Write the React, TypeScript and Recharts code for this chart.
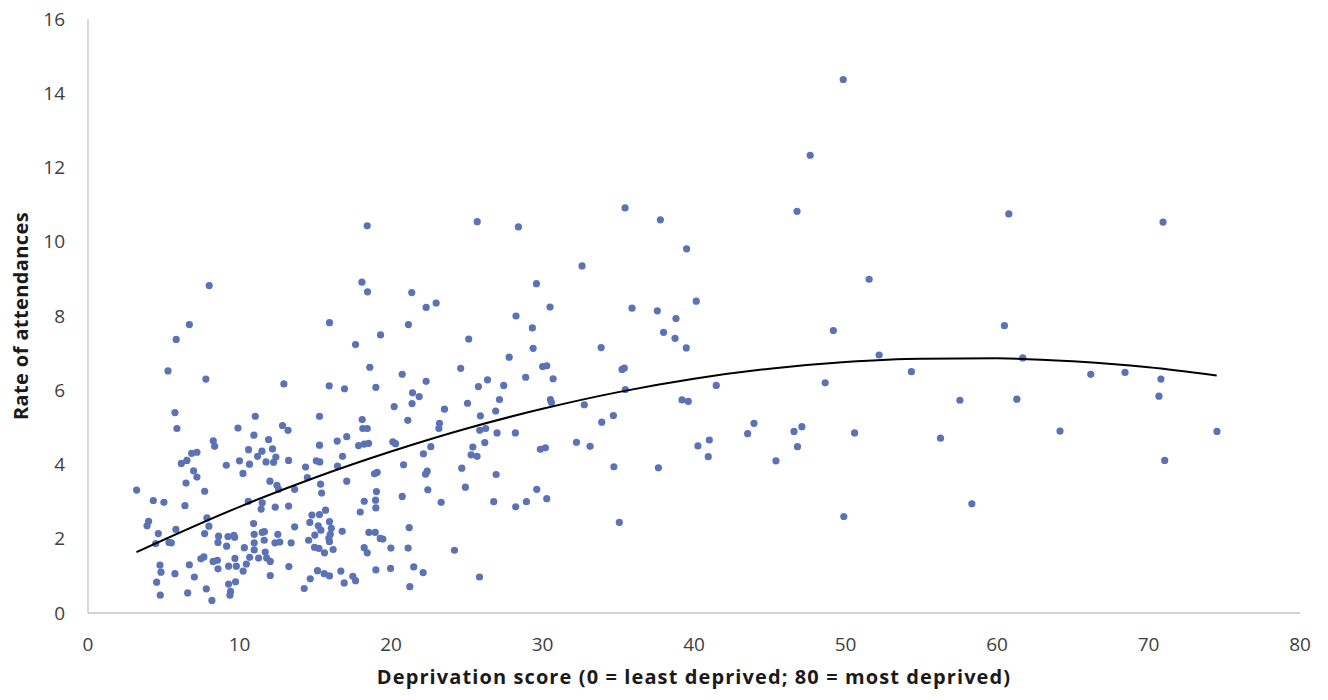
import { ScatterChart, Scatter, XAxis, YAxis } from "recharts";

// [deprivation score, rate of attendances], grouped by score band
const band0to10: [number, number][] = [
  [3.21, 3.31], [3.9, 2.35], [4.0, 2.47], [4.31, 3.03], [4.47, 1.87], [4.53, 0.83], [4.64, 2.14],
  [4.75, 1.29], [4.77, 0.48], [4.82, 1.1], [5.01, 2.98], [5.28, 6.52], [5.35, 1.9], [5.5, 1.89],
  [5.74, 5.4], [5.74, 1.06], [5.8, 2.25], [5.82, 7.37], [5.87, 4.97], [6.16, 4.03], [6.4, 2.89],
  [6.47, 3.5], [6.53, 4.11], [6.58, 0.54], [6.69, 7.77], [6.69, 1.3], [6.84, 4.3], [6.97, 3.83],
  [7.02, 0.97], [7.19, 4.33], [7.19, 3.66], [7.45, 1.46], [7.65, 1.51], [7.7, 3.28], [7.7, 2.14],
  [7.78, 6.3], [7.81, 0.65], [7.85, 2.56], [7.98, 2.34], [8.0, 8.82], [8.18, 0.34], [8.26, 1.39],
  [8.27, 4.64], [8.36, 4.49], [8.54, 1.42], [8.58, 1.9], [8.58, 1.19], [8.62, 2.07], [9.13, 3.98],
  [9.15, 1.8], [9.24, 2.06], [9.28, 1.26], [9.28, 0.78], [9.37, 0.48], [9.41, 0.58], [9.63, 2.09],
  [9.68, 2.04], [9.7, 1.47], [9.74, 0.84], [9.79, 1.26], [9.9, 4.98],
];

const band10to20: [number, number][] = [
  [10.0, 4.1], [10.23, 3.76], [10.24, 1.13], [10.32, 1.76], [10.45, 1.32], [10.58, 3.01], [10.6, 4.4],
  [10.66, 4.01], [10.67, 1.5], [10.93, 2.41], [10.95, 4.79], [10.97, 2.12], [10.97, 1.89], [10.97, 1.7],
  [11.04, 5.3], [11.19, 4.22], [11.26, 1.48], [11.43, 2.8], [11.48, 4.36], [11.5, 2.97], [11.5, 2.17],
  [11.63, 1.96], [11.64, 2.19], [11.7, 1.64], [11.75, 4.07], [11.79, 1.48], [11.92, 4.67], [12.01, 3.55],
  [12.03, 1.39], [12.03, 1.01], [12.18, 4.42], [12.25, 4.06], [12.34, 1.89], [12.36, 2.85], [12.4, 4.2],
  [12.47, 3.44], [12.53, 2.12], [12.58, 3.33], [12.66, 1.91], [12.84, 5.05], [12.93, 6.17], [13.2, 4.92],
  [13.24, 4.11], [13.24, 2.88], [13.26, 1.25], [13.41, 1.89], [13.64, 3.33], [13.64, 2.32], [14.27, 0.66],
  [14.36, 3.93], [14.48, 3.65], [14.56, 1.96], [14.64, 2.44], [14.67, 0.92], [14.78, 2.64], [14.95, 1.77],
  [14.97, 2.1], [15.07, 4.1], [15.15, 1.14], [15.2, 2.35], [15.24, 1.74], [15.28, 5.3], [15.28, 4.52],
  [15.28, 2.65], [15.3, 4.07], [15.35, 3.47], [15.37, 2.23], [15.42, 3.23], [15.59, 1.06], [15.61, 1.62],
  [15.68, 2.77], [15.9, 2.01], [15.92, 6.12], [15.94, 7.82], [15.94, 2.46], [15.94, 1.92], [15.94, 1.0],
  [15.99, 2.12], [16.06, 2.28], [16.18, 1.71], [16.45, 4.63], [16.47, 3.96], [16.69, 1.13], [16.78, 2.2],
  [16.8, 4.22], [16.91, 0.81], [16.93, 6.04], [17.08, 4.75], [17.08, 3.55], [17.48, 0.99], [17.66, 7.23],
  [17.66, 0.87], [17.86, 4.51], [17.97, 2.72], [18.08, 8.91], [18.1, 5.21], [18.14, 4.97], [18.23, 4.55],
  [18.23, 3.01], [18.23, 1.76], [18.43, 10.43], [18.43, 4.97], [18.43, 1.62], [18.45, 8.65], [18.52, 4.57],
  [18.54, 2.17], [18.6, 6.62], [18.91, 3.75], [18.96, 2.17], [18.98, 3.04], [19.0, 6.08], [19.0, 2.83],
  [19.0, 1.16], [19.04, 3.27], [19.09, 3.79], [19.29, 2.01], [19.31, 7.49], [19.46, 1.99], [19.97, 1.2],
  [19.99, 1.75],
];

const band20to30: [number, number][] = [
  [20.12, 4.61], [20.21, 5.56], [20.3, 4.56], [20.74, 6.43], [20.74, 3.14], [20.83, 3.99], [21.11, 5.19],
  [21.13, 1.75], [21.15, 7.77], [21.2, 2.3], [21.24, 0.71], [21.37, 8.63], [21.39, 5.64], [21.42, 5.93],
  [21.5, 1.24], [21.86, 5.83], [22.12, 1.09], [22.14, 4.29], [22.28, 3.74], [22.32, 8.23], [22.32, 6.24],
  [22.39, 3.82], [22.43, 3.32], [22.63, 4.48], [22.98, 8.35], [23.16, 4.97], [23.2, 5.11], [23.31, 2.98],
  [23.53, 5.49], [24.19, 1.69], [24.6, 6.59], [24.67, 3.9], [24.91, 3.39], [25.05, 5.65], [25.13, 7.38],
  [25.29, 4.26], [25.4, 4.47], [25.68, 4.22], [25.69, 10.54], [25.77, 6.1], [25.84, 0.97], [25.86, 4.92],
  [25.9, 5.31], [26.19, 4.59], [26.25, 4.97], [26.37, 6.28], [26.78, 3.0], [26.91, 5.44], [26.94, 3.73],
  [27.0, 4.85], [27.16, 5.75], [27.44, 6.13], [27.8, 6.89], [28.21, 4.85], [28.23, 2.86], [28.25, 8.0],
  [28.41, 10.4], [28.89, 6.35], [28.94, 3.0], [29.33, 7.68], [29.38, 7.13], [29.6, 8.87], [29.62, 3.33],
  [29.86, 4.41],
];

const band30plus: [number, number][] = [
  [30.01, 6.64], [30.19, 4.45], [30.28, 6.66], [30.28, 3.08], [30.5, 8.24], [30.52, 5.75], [30.59, 5.67],
  [30.7, 6.31], [32.24, 4.6], [32.61, 9.35], [32.76, 5.61], [33.14, 4.49], [33.87, 7.15], [33.91, 5.14],
  [34.68, 5.32], [34.71, 3.94], [35.07, 2.44], [35.25, 6.56], [35.4, 6.6], [35.45, 10.91], [35.47, 6.02],
  [35.91, 8.21], [37.58, 8.14], [37.65, 3.91], [37.78, 10.59], [37.99, 7.56], [38.75, 7.4], [38.81, 7.93],
  [39.21, 5.74], [39.49, 7.14], [39.51, 9.81], [39.62, 5.7], [40.15, 8.4], [40.26, 4.5], [40.94, 4.21],
  [41.01, 4.66], [41.47, 6.13], [43.54, 4.83], [43.96, 5.11], [45.41, 4.1], [46.6, 4.89], [46.8, 10.82],
  [46.83, 4.48], [47.12, 5.02], [47.67, 12.33], [48.66, 6.2], [49.2, 7.61], [49.85, 14.37], [49.89, 2.6],
  [50.6, 4.85], [51.56, 8.99], [52.22, 6.95], [54.35, 6.5], [56.27, 4.71], [57.55, 5.73], [58.34, 2.94],
  [60.49, 7.74], [60.78, 10.75], [61.31, 5.76], [61.7, 6.87], [64.16, 4.9], [66.19, 6.43], [68.45, 6.48],
  [70.69, 5.84], [70.82, 6.3], [70.96, 10.53], [71.07, 4.11], [74.52, 4.89],
];

// polynomial trend line at intervals
const trendX = [3.2, 10, 15, 20, 25, 30, 35, 40, 45, 50, 55, 60, 65, 70, 74.5];
const trendY = [1.64, 2.86, 3.65, 4.35, 4.97, 5.5, 5.95, 6.31, 6.58, 6.76, 6.85, 6.86, 6.78, 6.62, 6.4];

const xTicks = [0, 10, 20, 30, 40, 50, 60, 70, 80];
const yTicks = [0, 2, 4, 6, 8, 10, 12, 14, 16];

const points = [...band0to10, ...band10to20, ...band20to30, ...band30plus].map(([x, y]) => ({ x, y }));
const trend = trendX.map((x, i) => ({ x, y: trendY[i] }));

const FONT = '"Open Sans", "Liberation Sans", sans-serif';
const axisStroke = { stroke: "#C4C4C4", strokeWidth: 1.3 };
const tickStyle = { fill: "#404040", fontSize: 19, fontFamily: FONT };

const Dot = (props: any) => <circle cx={props.cx} cy={props.cy} r={3.6} fill="#5B73B6" />;
const NoDot = () => <g />;

const XTitle = (props: any) => {
  const vb = props.viewBox;
  return (
    <text x={vb.x + vb.width / 2} y={676} textAnchor="middle" fill="#1a1a1a"
      fontSize={20} fontWeight={700} fontFamily={FONT} letterSpacing={1.1}>
      Deprivation score (0 = least deprived; 80 = most deprived)
    </text>
  );
};

const YTitle = (props: any) => {
  const vb = props.viewBox;
  const cx = 12;
  const cy = vb.y + vb.height / 2;
  return (
    <text x={cx} y={cy} transform={`rotate(-90, ${cx}, ${cy})`} textAnchor="middle"
      dominantBaseline="central" fill="#1a1a1a" fontSize={20} fontWeight={700} fontFamily={FONT}
      letterSpacing={0.4}>
      Rate of attendances
    </text>
  );
};

export default function App() {
  return (
    <div style={{ width: 1320, height: 690, background: "#fff" }}>
      <ScatterChart width={1320} height={690} margin={{ top: 11, right: 28, bottom: 0, left: 0 }}>
        <XAxis
          type="number"
          dataKey="x"
          domain={[0, 80]}
          ticks={xTicks}
          interval={0}
          height={85}
          axisLine={axisStroke}
          tickLine={false}
          tickMargin={19}
          tick={tickStyle}
          label={<XTitle />}
        />
        <YAxis
          type="number"
          dataKey="y"
          domain={[0, 16]}
          ticks={yTicks}
          interval={0}
          width={80}
          axisLine={axisStroke}
          tickLine={false}
          tickMargin={17}
          tick={tickStyle}
          label={<YTitle />}
        />
        <Scatter data={points} shape={<Dot />} isAnimationActive={false} />
        <Scatter
          data={trend}
          shape={<NoDot />}
          line={{ stroke: "#000", strokeWidth: 2 }}
          lineJointType="monotoneX"
          isAnimationActive={false}
        />
      </ScatterChart>
    </div>
  );
}
